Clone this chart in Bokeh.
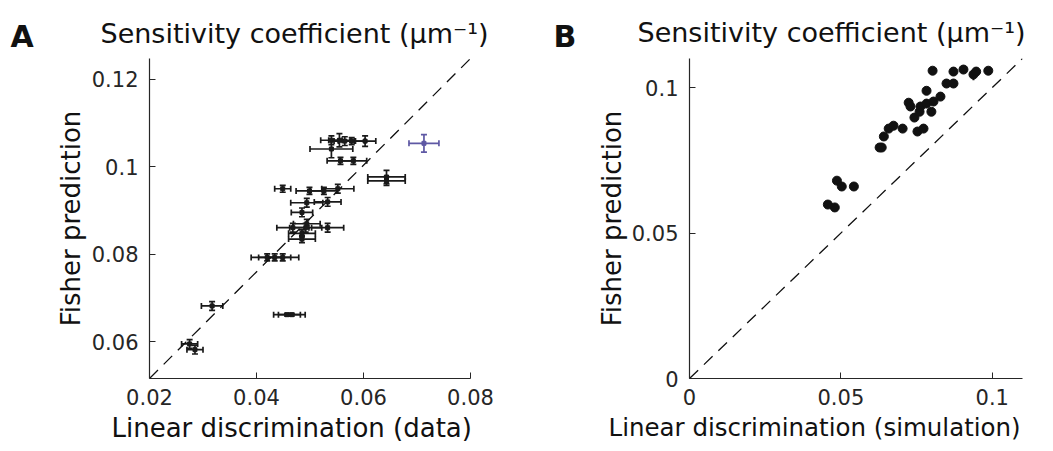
from bokeh.plotting import figure
from bokeh.models import ColumnDataSource, Whisker, TeeHead, Title, FixedTicker, Range1d
from bokeh.layouts import row
from bokeh.embed import file_html
from bokeh.resources import INLINE

# ---------------- Panel A data (data vs Fisher prediction) ----------------
a_x = [0.0275, 0.0285, 0.0317, 0.0457, 0.0466, 0.0420, 0.0434, 0.0449, 0.0485, 0.0485,
       0.0468, 0.0492, 0.0533, 0.0494, 0.0485, 0.0494, 0.0533, 0.0449, 0.0499, 0.0526,
       0.0552, 0.0557, 0.0581, 0.0540, 0.0540, 0.0555, 0.0565, 0.0578, 0.0603, 0.0643, 0.0643]
a_y = [0.0595, 0.0582, 0.0682, 0.0662, 0.0662, 0.0793, 0.0793, 0.0793, 0.0835, 0.0848,
       0.0861, 0.0861, 0.0861, 0.0870, 0.0896, 0.0918, 0.0920, 0.0950, 0.0945, 0.0945,
       0.0950, 0.1014, 0.1014, 0.1041, 0.1061, 0.1061, 0.1059, 0.1059, 0.1059, 0.0977, 0.0968]
a_xerr = [0.0015, 0.0015, 0.0020, 0.0025, 0.0025, 0.0030, 0.0030, 0.0030, 0.0025, 0.0025,
          0.0030, 0.0030, 0.0030, 0.0025, 0.0020, 0.0030, 0.0025, 0.0015, 0.0025, 0.0025,
          0.0030, 0.0025, 0.0025, 0.0040, 0.0020, 0.0020, 0.0020, 0.0025, 0.0020, 0.0035, 0.0035]
a_yerr = [0.0010, 0.0010, 0.0010, 0.0003, 0.0003, 0.0008, 0.0008, 0.0008, 0.0008, 0.0008,
          0.0010, 0.0010, 0.0010, 0.0010, 0.0010, 0.0010, 0.0010, 0.0008, 0.0008, 0.0008,
          0.0010, 0.0008, 0.0008, 0.0020, 0.0010, 0.0015, 0.0010, 0.0008, 0.0012, 0.0015, 0.0010]
# highlighted (purple) point
a_hx = [0.0713]
a_hy = [0.1054]
a_hxerr = [0.0028]
a_hyerr = [0.0020]

a_xticks = [0.02, 0.04, 0.06, 0.08]
a_yticks = [0.06, 0.08, 0.1, 0.12]
a_xlabels = ["0.02", "0.04", "0.06", "0.08"]
a_ylabels = ["0.06", "0.08", "0.1", "0.12"]
A_XR = (0.02, 0.08)
A_YR = (0.0516, 0.1248)

# ---------------- Panel B data (simulation vs Fisher prediction) ----------------
b_x = [0.0457, 0.0480, 0.0487, 0.0503, 0.0543, 0.0628, 0.0635, 0.0642, 0.0658, 0.0674,
       0.0704, 0.0753, 0.0773, 0.0743, 0.0760, 0.0763, 0.0724, 0.0730, 0.0783, 0.0783,
       0.0799, 0.0806, 0.0829, 0.0849, 0.0872, 0.0803, 0.0872, 0.0905, 0.0938, 0.0947, 0.0987]
b_y = [0.0598, 0.0588, 0.0680, 0.0660, 0.0660, 0.0794, 0.0794, 0.0832, 0.0859, 0.0869,
       0.0859, 0.0849, 0.0859, 0.0897, 0.0917, 0.0935, 0.0948, 0.0935, 0.0945, 0.0989,
       0.0917, 0.0952, 0.0969, 0.1014, 0.1014, 0.1058, 0.1055, 0.1062, 0.1045, 0.1055, 0.1058]
b_yerr = [0.0007, 0.0007, 0.0007, 0.0007, 0.0007, 0.0007, 0.0007, 0.0008, 0.0008, 0.0008,
          0.0008, 0.0008, 0.0010, 0.0008, 0.0010, 0.0015, 0.0008, 0.0010, 0.0008, 0.0010,
          0.0010, 0.0010, 0.0012, 0.0010, 0.0012, 0.0010, 0.0015, 0.0012, 0.0020, 0.0015, 0.0010]

b_xticks = [0, 0.05, 0.1]
b_yticks = [0, 0.05, 0.1]
b_xlabels = ["0", "0.05", "0.1"]
b_ylabels = ["0", "0.05", "0.1"]
B_XR = (0.0, 0.11)
B_YR = (0.0, 0.11)

TITLE = "Sensitivity coefficient (μm⁻¹)"
YLABEL = "Fisher prediction"
A_XLABEL = "Linear discrimination (data)"
B_XLABEL = "Linear discrimination (simulation)"
FONT = "DejaVu Sans"
AXC = "#262626"
TXT = "#111111"
PURPLE = "#5e58a4"
H = 445


def style(p, xt, xl, yt, yl):
    p.xgrid.visible = False
    p.ygrid.visible = False
    p.outline_line_color = None
    p.xaxis.ticker = FixedTicker(ticks=xt)
    p.yaxis.ticker = FixedTicker(ticks=yt)
    p.xaxis.major_label_overrides = dict(zip(xt, xl))
    p.yaxis.major_label_overrides = dict(zip(yt, yl))
    for ax in (p.xaxis[0], p.yaxis[0]):
        ax.axis_line_color = AXC
        ax.axis_line_width = 1.2
        ax.major_tick_line_color = AXC
        ax.major_tick_in = 6
        ax.major_tick_out = 0
        ax.minor_tick_line_color = None
        ax.major_label_text_font = FONT
        ax.major_label_text_font_size = "21px"
        ax.major_label_text_color = AXC
    p.xaxis.major_label_standoff = 10
    p.yaxis.major_label_standoff = 11


def set_title(t, s, size, offset, standoff, bold=False, align="left"):
    t.text = s
    t.text_font = FONT
    t.text_font_size = size
    t.text_font_style = "bold" if bold else "normal"
    t.text_color = TXT
    t.align = align
    t.offset = offset
    t.standoff = standoff


def add_title(p, where, s, size, offset, standoff, align="left"):
    t = Title()
    set_title(t, s, size, offset, standoff, align=align)
    p.add_layout(t, where)


def letter_fig(s, width, offset, top):
    f = figure(width=width, height=H, output_backend="svg", toolbar_location=None,
               x_axis_location=None, y_axis_location=None,
               min_border_left=0, min_border_right=0, min_border_top=top, min_border_bottom=66)
    f.outline_line_color = None
    f.grid.visible = False
    set_title(f.title, s, "30px", offset, 9, bold=True, align="left")
    return f


# ---------------- Panel A ----------------
la = letter_fig("A", 40, 10, 56)

pa = figure(width=495, height=H, output_backend="svg", toolbar_location=None,
            x_range=Range1d(*A_XR), y_range=Range1d(*A_YR),
            min_border_left=109, min_border_right=65, min_border_top=56, min_border_bottom=66)
style(pa, a_xticks, a_xlabels, a_yticks, a_ylabels)
set_title(pa.title, TITLE, "27px", -49, 19)
add_title(pa, "below", A_XLABEL, "26px", -38, 6)
add_title(pa, "left", YLABEL, "26px", 0, 6, align="center")

pa.line([A_XR[0], A_XR[1]], [A_YR[0], A_YR[1]], line_color=TXT, line_width=1.3,
        line_dash="12 8")

src_a = ColumnDataSource(dict(
    x=a_x, y=a_y,
    xl=[x - e for x, e in zip(a_x, a_xerr)], xu=[x + e for x, e in zip(a_x, a_xerr)],
    yl=[y - e for y, e in zip(a_y, a_yerr)], yu=[y + e for y, e in zip(a_y, a_yerr)]))
src_h = ColumnDataSource(dict(
    x=a_hx, y=a_hy,
    xl=[x - e for x, e in zip(a_hx, a_hxerr)], xu=[x + e for x, e in zip(a_hx, a_hxerr)],
    yl=[y - e for y, e in zip(a_hy, a_hyerr)], yu=[y + e for y, e in zip(a_hy, a_hyerr)]))

for src, col in ((src_a, "#1a1a1a"), (src_h, PURPLE)):
    for base, lo, hi, dim in (("y", "xl", "xu", "width"), ("x", "yl", "yu", "height")):
        pa.add_layout(Whisker(source=src, base=base, lower=lo, upper=hi, dimension=dim,
                              line_color=col, line_width=1.7,
                              upper_head=TeeHead(size=6, line_color=col, line_width=1.7),
                              lower_head=TeeHead(size=6, line_color=col, line_width=1.7)))
    pa.scatter("x", "y", source=src, marker="square", size=4, color=col)

# ---------------- Panel B ----------------
lb = letter_fig("B", 55, 18, 58)

pb = figure(width=455, height=H, output_backend="svg", toolbar_location=None,
            x_range=Range1d(*B_XR), y_range=Range1d(*B_YR),
            min_border_left=99, min_border_right=23, min_border_top=58, min_border_bottom=66)
style(pb, b_xticks, b_xlabels, b_yticks, b_ylabels)
set_title(pb.title, TITLE, "27px", -52, 21)
add_title(pb, "below", B_XLABEL, "24.5px", -81, 7)
add_title(pb, "left", YLABEL, "26px", 0, 3, align="center")

pb.line([B_XR[0], B_XR[1]], [B_YR[0], B_YR[1]], line_color=TXT, line_width=1.3,
        line_dash="12 8")

src_b = ColumnDataSource(dict(
    x=b_x, y=b_y,
    yl=[y - e for y, e in zip(b_y, b_yerr)], yu=[y + e for y, e in zip(b_y, b_yerr)]))
pb.segment(x0="x", y0="yl", x1="x", y1="yu", source=src_b, line_color=TXT, line_width=2)
pb.scatter("x", "y", source=src_b, marker="circle", size=9, color=TXT)

layout = row(la, pa, lb, pb)
open("out.html", "w").write(file_html(layout, INLINE))
